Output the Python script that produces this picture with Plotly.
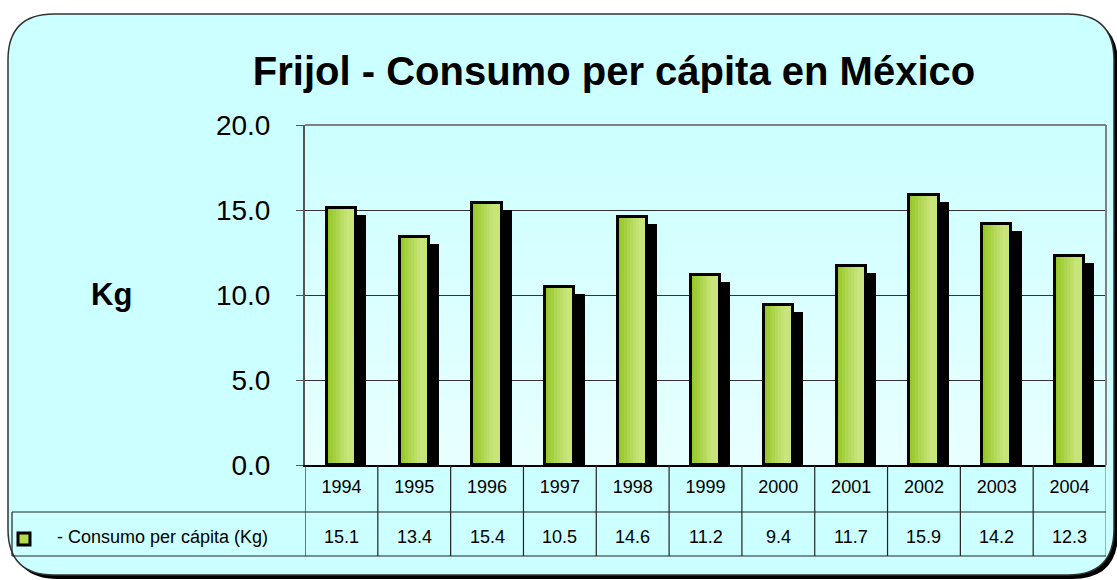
import plotly.graph_objects as go

# ---- data ----
years = ["1994", "1995", "1996", "1997", "1998", "1999", "2000", "2001", "2002", "2003", "2004"]
consumo = [15.1, 13.4, 15.4, 10.5, 14.6, 11.2, 9.4, 11.7, 15.9, 14.2, 12.3]
series_label = "- Consumo per cápita (Kg)"
title_text = "Frijol - Consumo per cápita en México"
y_label = "Kg"

# ---- geometry (pixels) ----
W, H = 1117, 580
L, R, T, B = 305, 1106, 125, 465
PW, PH = R - L, B - T


def px(x, y):
    return (x - L) / PW, (B - y) / PH


def rrect_path(x0, y0, x1, y1, r):
    def P(x, y):
        a, b = px(x, y)
        return f"{a:.5f},{b:.5f}"
    s = f"M {P(x0 + r, y0)} L {P(x1 - r, y0)} Q {P(x1, y0)} {P(x1, y0 + r)} "
    s += f"L {P(x1, y1 - r)} Q {P(x1, y1)} {P(x1 - r, y1)} "
    s += f"L {P(x0 + r, y1)} Q {P(x0, y1)} {P(x0, y1 - r)} "
    s += f"L {P(x0, y0 + r)} Q {P(x0, y0)} {P(x0 + r, y0)} Z"
    return s


def lerp_color(c1, c2, t):
    return "rgb({},{},{})".format(*[round(a + (b - a) * t) for a, b in zip(c1, c2)])


FONT = "Liberation Sans, Arial"
fig = go.Figure()

bar_w = 0.4
bar_off = -0.2
shadow_dy = 7 / 17.0
shadow_dx = 0.14

# shadow
fig.add_trace(go.Bar(
    x=years, y=[v - shadow_dy for v in consumo],
    width=bar_w, offset=bar_off + shadow_dx,
    marker=dict(color="black", line=dict(width=0)),
    hoverinfo="skip", showlegend=False))

# gradient strips
n = 10
c_dark = (150, 200, 40)
c_light = (200, 228, 122)
for k in range(n):
    t = min(1.0, k / (n * 0.65))
    fig.add_trace(go.Bar(
        x=years, y=consumo,
        width=bar_w / n + 0.002, offset=bar_off + k * bar_w / n,
        marker=dict(color=lerp_color(c_dark, c_light, t), line=dict(width=0)),
        hoverinfo="skip", showlegend=False))

# outline
fig.add_trace(go.Bar(
    x=years, y=consumo, width=bar_w, offset=bar_off,
    marker=dict(color="rgba(0,0,0,0)", line=dict(color="black", width=3)),
    hoverinfo="skip", showlegend=False))

shapes = []
# outer box shadow + box
shapes.append(dict(type="path", xref="paper", yref="paper", layer="below",
                   path=rrect_path(12, 18, 1118, 579, 46), fillcolor="black", line=dict(width=0)))
shapes.append(dict(type="path", xref="paper", yref="paper", layer="below",
                   path=rrect_path(8, 14, 1114, 575, 46), fillcolor="#ccffff",
                   line=dict(color="#333333", width=1.5)))
# plot area gradient
nb = 40
top_c = (204, 255, 255)
bot_c = (232, 255, 255)
for k in range(nb):
    y0 = k / nb
    y1 = (k + 1) / nb
    shapes.append(dict(type="rect", xref="paper", yref="paper", layer="below",
                       x0=0, x1=1, y0=y0, y1=y1 + 0.002,
                       fillcolor=lerp_color(bot_c, top_c, (k + 0.5) / nb), line=dict(width=0)))
# top & right border of plot area
shapes.append(dict(type="line", xref="paper", yref="paper", x0=0, x1=1, y0=1, y1=1,
                   line=dict(color="#808080", width=2)))
shapes.append(dict(type="line", xref="paper", yref="paper", x0=1, x1=1, y0=1, y1=0,
                   line=dict(color="#808080", width=2)))

# data table lines
y_row1 = px(0, 512)[1]
y_row2 = px(0, 556)[1]
x_tab_left = px(12, 0)[0]
for i in range(len(years) + 1):
    shapes.append(dict(type="line", xref="x", yref="paper", x0=i - 0.5, x1=i - 0.5,
                       y0=0, y1=y_row2,
                       line=dict(color="#222222" if i < len(years) else "#808080", width=1.2)))
for yy in (y_row1, y_row2):
    shapes.append(dict(type="line", xref="paper", yref="paper", x0=x_tab_left, x1=1, y0=yy, y1=yy,
                       line=dict(color="#222222", width=1.2)))
shapes.append(dict(type="line", xref="paper", yref="paper", x0=x_tab_left, x1=x_tab_left,
                   y0=y_row1, y1=y_row2, line=dict(color="#222222", width=1.2)))
# legend key
kx0, ky0 = px(18, 533)
kx1, ky1 = px(30, 545)
shapes.append(dict(type="rect", xref="paper", yref="paper", x0=kx0, x1=kx1, y0=ky0, y1=ky1,
                   fillcolor="#b5d94f", line=dict(color="black", width=3)))

annotations = []
val_y = px(0, 537)[1]
for i, v in enumerate(consumo):
    annotations.append(dict(x=i, y=val_y, xref="x", yref="paper", text=f"{v:.1f}",
                            showarrow=False, xanchor="center", yanchor="middle",
                            font=dict(family=FONT, size=18, color="black")))
lx, ly = px(55, 537)
annotations.append(dict(x=lx, y=ly, xref="paper", yref="paper", text=series_label,
                        showarrow=False, xanchor="left", yanchor="middle",
                        font=dict(family=FONT, size=18, color="black")))
kgx, kgy = px(111, 294)
annotations.append(dict(x=kgx, y=kgy, xref="paper", yref="paper", text=f"<b>{y_label}</b>",
                        showarrow=False, xanchor="center", yanchor="middle",
                        font=dict(family=FONT, size=31, color="black")))

fig.update_layout(
    width=W, height=H,
    margin=dict(l=L, r=W - R, t=T, b=H - B, pad=0),
    paper_bgcolor="white", plot_bgcolor="rgba(0,0,0,0)",
    barmode="overlay", bargap=0,
    showlegend=False,
    title=dict(text=f"<b>{title_text}</b>", xref="container", yref="container",
               x=614 / W, y=1 - 71 / H, xanchor="center", yanchor="middle",
               font=dict(family=FONT, size=40, color="black")),
    xaxis=dict(type="category", range=[-0.5, len(years) - 0.5], showline=True,
               linecolor="black", linewidth=2, ticks="", showgrid=False, automargin=False,
               tickfont=dict(family=FONT, size=18, color="black"),
               ticklabelstandoff=4),
    yaxis=dict(range=[0, 20], dtick=5, tickformat=".1f", showline=True, linecolor="#555555",
               linewidth=2, ticks="outside", ticklen=7, tickcolor="#555555", showgrid=True,
               gridcolor="#333333", gridwidth=1, zeroline=False, automargin=False,
               tickfont=dict(family=FONT, size=28, color="black"),
               ticklabelstandoff=20),
    shapes=shapes, annotations=annotations,
)

fig.write_html("out.html", config={"displayModeBar": False},
               post_script="document.body.style.margin='0';document.body.style.overflow='hidden';")
